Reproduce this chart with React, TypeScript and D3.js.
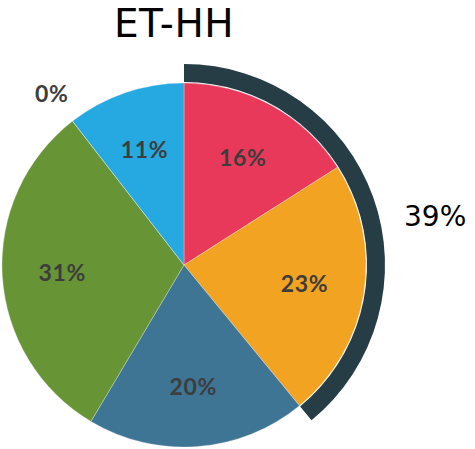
import React from 'react';
import * as d3 from 'd3';

const categories = ['A', 'B', 'C', 'D', 'E', 'F'];
const values = [16, 23.1, 19.5, 31, 0, 10.5];
const colors = ['#E9395A', '#F2A322', '#3E7595', '#679536', '#8a8a8a', '#25A9E0'];
const highlight = ['A', 'B'];
const title = 'ET-HH';

export default function App() {
  const width = 475;
  const height = 449;
  const cx = 184;
  const cy = 265;
  const r = 182;

  const pie = d3.pie<number>().sort(null).value(d => d);
  const arcs = pie(values);
  const arc = d3.arc<d3.PieArcDatum<number>>().innerRadius(0).outerRadius(r);
  // centroid sits at the mean of inner and outer radius
  const labelArc = d3.arc<d3.PieArcDatum<number>>().innerRadius(122).outerRadius(122);
  const outArc = d3.arc<d3.PieArcDatum<number>>().innerRadius(216).outerRadius(216);

  const hiIdx = categories.map((c, i) => (highlight.includes(c) ? i : -1)).filter(i => i >= 0);
  const hiStart = arcs[hiIdx[0]].startAngle;
  const hiEnd = arcs[hiIdx[hiIdx.length - 1]].endAngle;
  const hiTotal = d3.sum(hiIdx, i => values[i]);
  const band = d3.arc()({ innerRadius: 183, outerRadius: 201, startAngle: hiStart, endAngle: hiEnd });
  const hiMid = (hiStart + hiEnd) / 2;

  return (
    <svg width={width} height={height} style={{ position: 'absolute', left: 0, top: 0 }}>
      <text x={174} y={37} textAnchor="middle" fontFamily="DejaVu Sans" fontSize={39} letterSpacing={0.5} fill="#000">
        {title}
      </text>
      <g transform={`translate(${cx},${cy})`}>
        {arcs.map((a, i) => (
          <path key={categories[i]} d={arc(a) || ''} fill={colors[i]} stroke="#f4f4f4" strokeWidth={0.3} />
        ))}
        <path d={band || ''} fill="#263D45" />
        {arcs.map((a, i) => {
          const [x, y] = a.value === 0 ? outArc.centroid(a) : labelArc.centroid(a);
          return (
            <text
              key={'l' + categories[i]}
              x={x}
              y={y}
              dy="0.35em"
              textAnchor="middle"
              fontFamily="Lato, sans-serif"
              fontWeight="bold"
              fontSize={23}
              letterSpacing={0.6}
              fill="#3d3d3d"
            >
              {Math.round(a.value)}%
            </text>
          );
        })}
        <text
          x={220}
          y={-145 * Math.cos(hiMid)}
          dy="0.35em"
          textAnchor="start"
          fontFamily="DejaVu Sans"
          fontSize={28}
          fill="#000"
        >
          {Math.round(hiTotal)}%
        </text>
      </g>
    </svg>
  );
}
